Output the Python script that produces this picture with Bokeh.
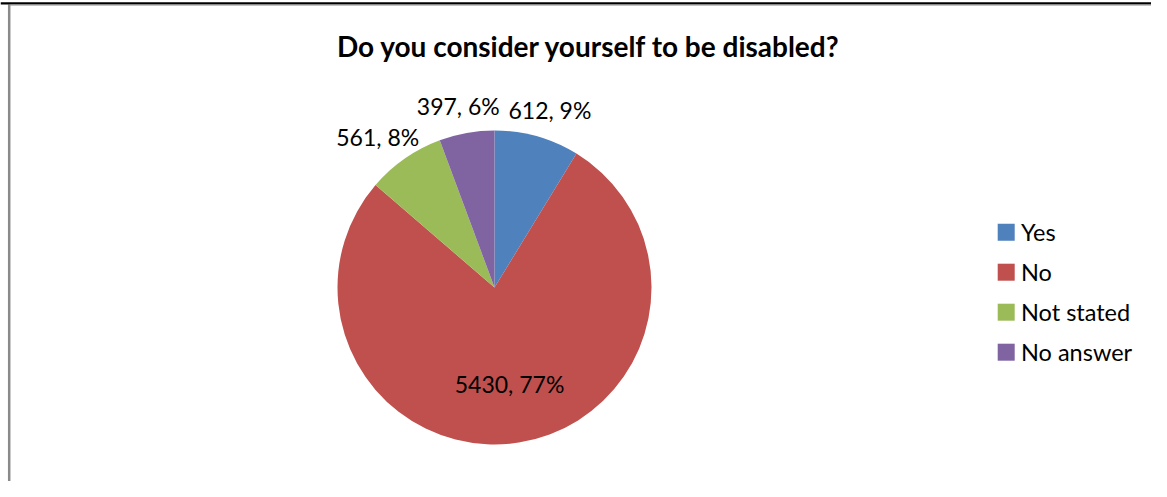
import math
from bokeh.plotting import figure
from bokeh.models import Range1d, ColumnDataSource
from bokeh.core.properties import value
from bokeh.embed import file_html
from bokeh.resources import INLINE

# ---- data ----
categories = ["Yes", "No", "Not stated", "No answer"]
counts = [612, 5430, 561, 397]
percents = ["9%", "77%", "8%", "6%"]
colors = ["#4F81BD", "#C0504D", "#9BBB59", "#8064A2"]
title_text = "Do you consider yourself to be disabled?"

W, H = 1151, 481
p = figure(width=W, height=H, output_backend="svg", toolbar_location=None,
           x_range=Range1d(0, W), y_range=Range1d(0, H), min_border=0)
p.axis.visible = False
p.grid.visible = False
p.outline_line_color = None
p.background_fill_color = "white"

def Y(py):
    return H - py

FONT = value("Lato")

# frame lines
p.segment(x0=[8.7], y0=[Y(4)], x1=[8.7], y1=[Y(481)], line_color="#8a8a8a", line_width=2.5)
p.segment(x0=[0], y0=[Y(2.8)], x1=[W], y1=[Y(2.8)], line_color="#000000", line_width=2.2)
p.segment(x0=[9], y0=[Y(4.6)], x1=[W], y1=[Y(4.6)], line_color="#9a9a9a", line_width=1)

# pie
cx, cy, R = 494, Y(287), 157
total = sum(counts)
starts, ends, lx, ly, labels = [], [], [], [], []
cum = 0
for c, pc in zip(counts, percents):
    a0 = math.pi / 2 - 2 * math.pi * cum / total
    a1 = math.pi / 2 - 2 * math.pi * (cum + c) / total
    starts.append(a0)
    ends.append(a1)
    mid = (a0 + a1) / 2
    frac = c / total
    if frac > 0.5:
        rr, extra = R * 0.62, 0
    else:
        rr, extra = R * 1.2, 16
    lx.append(cx + (rr + extra) * math.cos(mid))
    ly.append(cy + rr * math.sin(mid) - (4 if frac <= 0.5 else 0))
    labels.append(f"{c}, {pc}")
    cum += c

src = ColumnDataSource(dict(start=starts, end=ends, color=colors))
p.wedge(x=cx, y=cy, radius=R, start_angle="start", end_angle="end",
        direction="clock", fill_color="color", line_color=None, source=src)

p.text(x=lx, y=ly, text=labels, text_align="center", text_baseline="middle",
       text_font=FONT, text_font_size="23px", text_color="#000000")

# title
p.text(x=[588.5], y=[Y(45)], text=[title_text], text_align="center", text_baseline="alphabetic",
       text_font=FONT, text_font_style="bold", text_font_size="28px",
       text_color="#000000")

# legend
ys = [Y(231.7 + 40 * i) for i in range(len(categories))]
p.rect(x=[1005.7] * len(categories), y=ys, width=17, height=17,
       fill_color=colors, line_color=None)
p.text(x=[1020.5] * len(categories), y=ys, text=categories, text_align="left",
       text_baseline="middle", text_font=FONT, text_font_size="23.5px",
       text_color="#000000")

open("out.html", "w").write(file_html(p, INLINE))
